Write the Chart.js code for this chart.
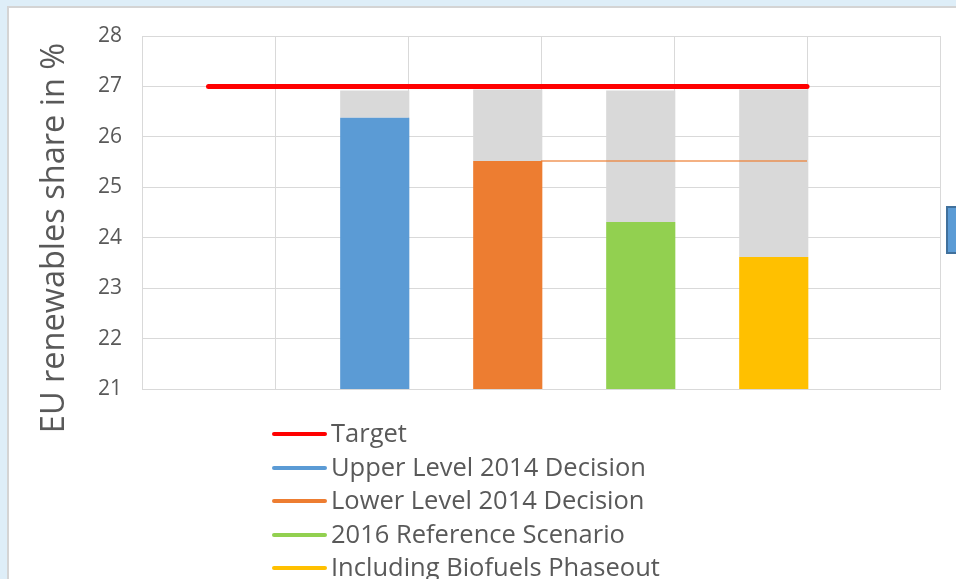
<!DOCTYPE html>
<html lang="en">
<head>
    <meta charset="UTF-8">
    <title>EU renewables share</title>
    <style>
        body {
            margin: 0;
            background: #deeef8;
            font-family: "Open Sans", sans-serif;
            overflow: hidden;
        }
        #panel {
            position: absolute;
            left: 7px;
            top: 6px;
            width: 1000px;
            height: 700px;
            background: #fff;
            border-left: 2px solid #d4d4d4;
            border-top: 2px solid #d4d4d4;
        }
        #chartBox {
            position: absolute;
            left: 0;
            top: 0;
            width: 956px;
            height: 579px;
        }
        #yTitle {
            position: absolute;
            left: -198px;
            top: 218px;
            width: 500px;
            height: 40px;
            line-height: 40px;
            text-align: center;
            font-size: 32.5px;
            color: #595959;
            transform: rotate(-90deg);
            white-space: nowrap;
        }
        #legend {
            position: absolute;
            left: 272px;
            top: 416px;
            color: #595959;
            font-size: 25.5px;
        }
        .item {
            height: 33.5px;
            line-height: 33.5px;
            white-space: nowrap;
        }
        .swatch {
            display: inline-block;
            width: 55px;
            height: 4px;
            border-radius: 2px;
            vertical-align: middle;
            margin-right: 4px;
            position: relative;
            top: -1px;
        }
        #shape {
            position: absolute;
            left: 946px;
            top: 206px;
            width: 20px;
            height: 44px;
            background: #5b9bd5;
            border: 2px solid #41719c;
        }
    </style>
</head>
<body>
    <div id="panel"></div>
    <div id="chartBox"><canvas id="myChart"></canvas></div>
    <div id="yTitle">EU renewables share in %</div>
    <div id="legend"></div>
    <div id="shape"></div>

    <script src="https://cdn.jsdelivr.net/npm/chart.js"></script>
    <script>

// scenarios drawn as bars (x = slot position on the 0..6 axis)
const scenarios = ['Upper Level 2014 Decision', 'Lower Level 2014 Decision', '2016 Reference Scenario', 'Including Biofuels Phaseout'];
const scenarioColors = ['#5b9bd5', '#ed7d31', '#92d050', '#ffc000'];
const barSlots = [1.75, 2.75, 3.75, 4.75];
const shareValues = [26.38, 25.52, 24.31, 23.62];
const rangeTops = [26.92, 26.94, 26.92, 26.94];

// target line
const targetLabel = 'Target';
const targetColor = '#ff0000';
const targetX = [0.5, 5];
const targetY = [27, 27];

// lower level reference line
const lowerLineX = [3, 5];
const lowerLineY = [25.52, 25.52];

const yTicks = [21, 22, 23, 24, 25, 26, 27, 28];

// legend
const legendEl = document.getElementById('legend');
const legendItems = [[targetLabel, targetColor]].concat(scenarios.map((s, i) => [s, scenarioColors[i]]));
legendItems.forEach(([label, color]) => {
    const row = document.createElement('div');
    row.className = 'item';
    row.innerHTML = '<span class="swatch" style="background:' + color + '"></span>' + label;
    legendEl.appendChild(row);
});

const ctx = document.getElementById('myChart').getContext('2d');
const chart = new Chart(ctx, {
    data: {
        datasets: [
            {
                type: 'line',
                label: targetLabel,
                data: targetX.map((x, i) => ({x: x, y: targetY[i]})),
                borderColor: targetColor,
                borderWidth: 5,
                borderCapStyle: 'round',
                pointRadius: 0,
                order: 0
            },
            {
                type: 'line',
                label: 'Lower level',
                data: lowerLineX.map((x, i) => ({x: x, y: lowerLineY[i]})),
                borderColor: 'rgba(237,125,49,0.8)',
                borderWidth: 1.5,
                pointRadius: 0,
                order: 1
            },
            {
                type: 'bar',
                label: 'share',
                stack: 'a',
                data: barSlots.map((x, i) => ({x: x, y: shareValues[i]})),
                backgroundColor: scenarioColors,
                barPercentage: 0.52,
                categoryPercentage: 1,
                order: 2
            },
            {
                type: 'bar',
                label: 'range',
                stack: 'a',
                data: barSlots.map((x, i) => ({x: x, y: rangeTops[i] - shareValues[i]})),
                backgroundColor: '#d9d9d9',
                barPercentage: 0.52,
                categoryPercentage: 1,
                order: 3
            }
        ]
    },
    options: {
        responsive: true,
        maintainAspectRatio: false,
        animation: false,
        layout: {
            padding: {left: 82, top: 36, right: 16, bottom: 190}
        },
        plugins: {
            legend: {display: false},
            tooltip: {enabled: false}
        },
        scales: {
            x: {
                type: 'linear',
                min: 0,
                max: 6,
                offset: false,
                ticks: {display: false, stepSize: 1},
                grid: {color: '#d9d9d9', drawTicks: false, offset: false},
                border: {color: '#d9d9d9'},
                afterFit: s => { s.height = 0; }
            },
            y: {
                min: 21,
                max: 28,
                afterBuildTicks: s => { s.ticks = yTicks.map(v => ({value: v})); },
                ticks: {
                    color: '#595959',
                    padding: 20,
                    font: {family: 'Open Sans', size: 21}
                },
                grid: {color: '#d9d9d9', drawTicks: false},
                border: {color: '#d9d9d9'},
                afterFit: s => { s.width = 60; }
            }
        }
    }
});

    </script>
</body>
</html>
